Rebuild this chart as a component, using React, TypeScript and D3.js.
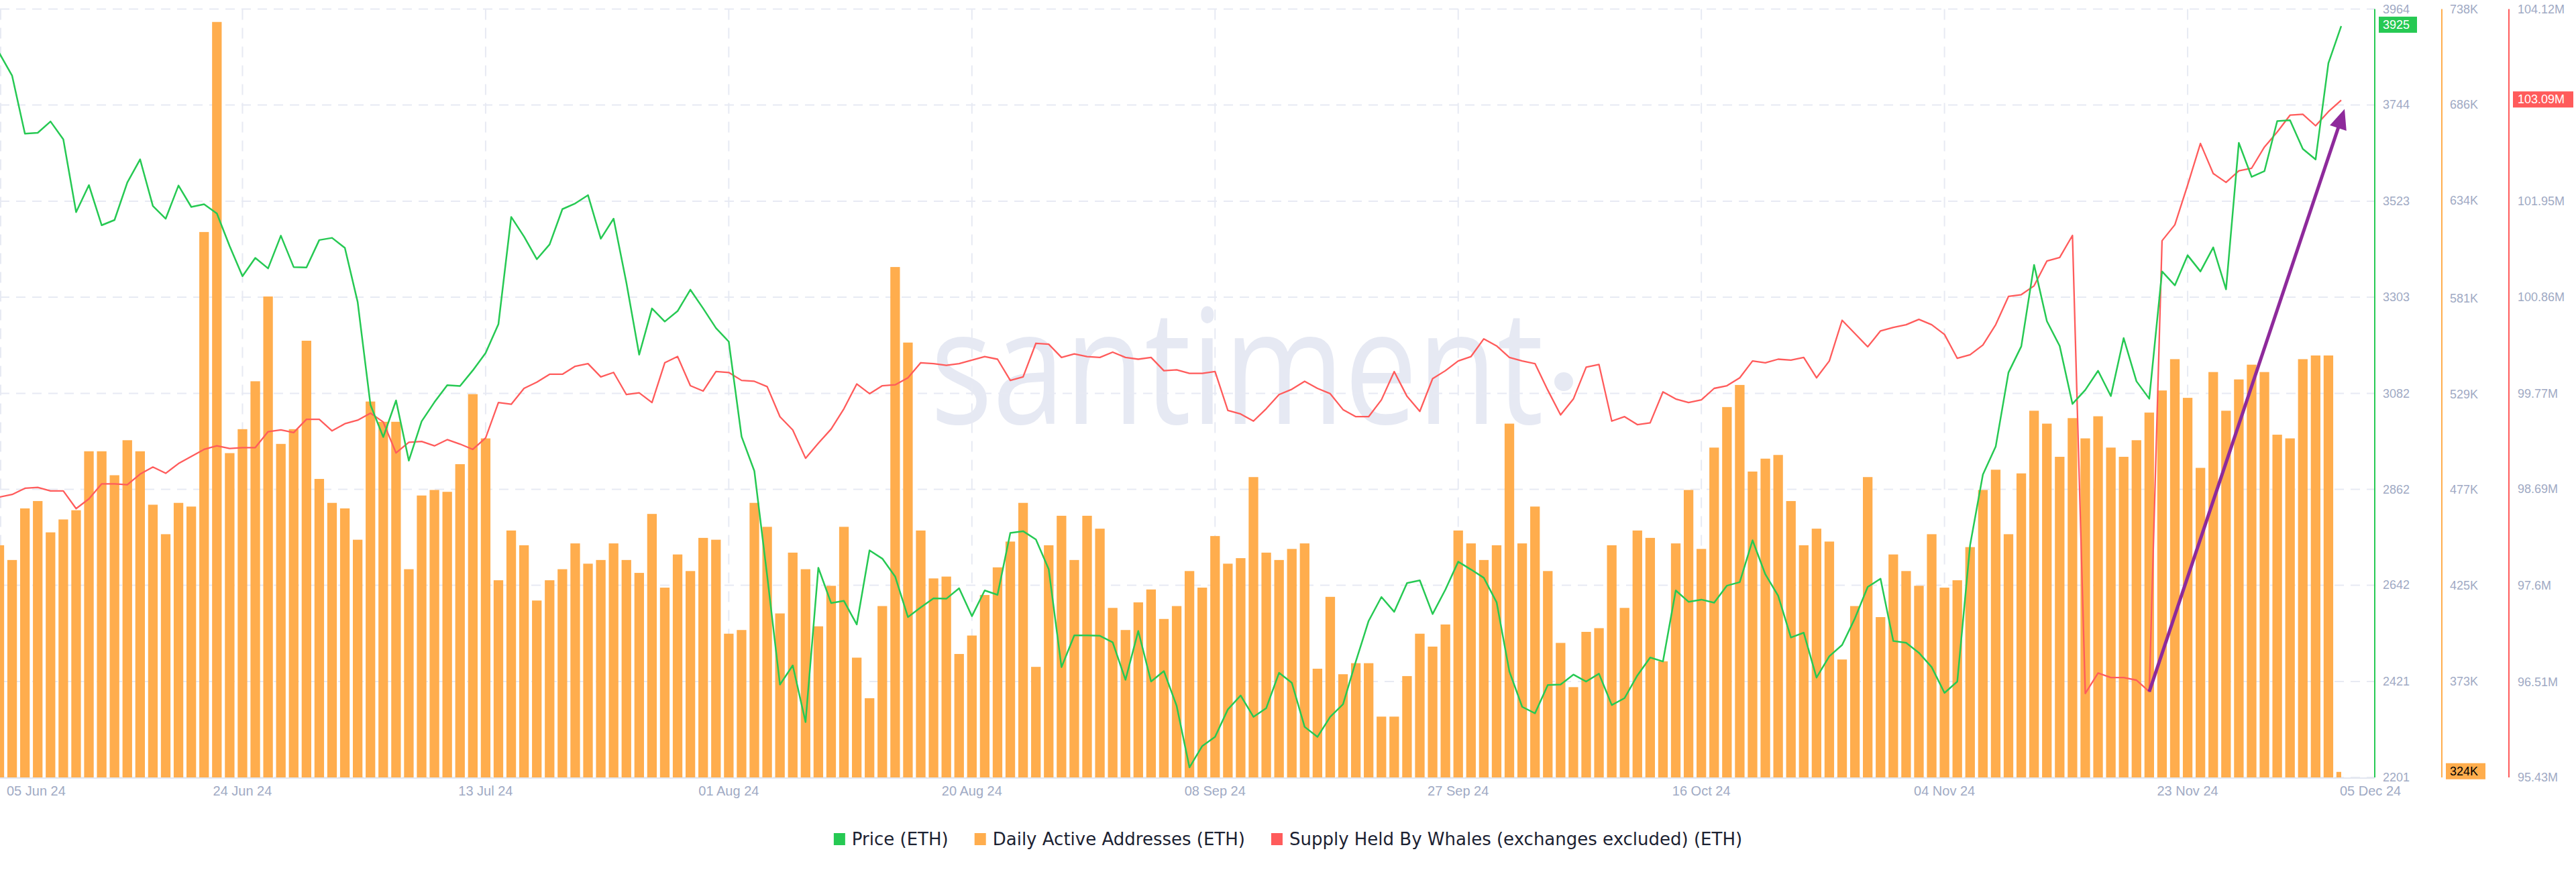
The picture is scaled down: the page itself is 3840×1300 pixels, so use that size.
import React, { useMemo } from "react";
import * as d3 from "d3";

// ---------- DATA ----------
const startDate = "2024-06-05";
const endDate = "2024-12-05";

// ETH price (USD), one value per day 05 Jun .. 05 Dec 2024
const price = [
  3863, 3811, 3678, 3680, 3706, 3665, 3498, 3560, 3468, 3480,
  3566, 3619, 3512, 3483, 3559, 3510, 3516, 3495, 3420, 3351,
  3393, 3369, 3444, 3372, 3371, 3434, 3439, 3416, 3292, 3056,
  2982, 3066, 2928, 3018, 3062, 3101, 3099, 3135, 3175, 3241,
  3487, 3442, 3390, 3424, 3505, 3518, 3537, 3437, 3483, 3336,
  3171, 3277, 3247, 3271, 3320, 3277, 3232, 3201, 2983, 2904,
  2664, 2414, 2458, 2328, 2682, 2601, 2606, 2552, 2722, 2703,
  2662, 2569, 2591, 2612, 2611, 2635, 2571, 2630, 2620, 2762,
  2766, 2747, 2679, 2454, 2527, 2527, 2526, 2511, 2425, 2537,
  2421, 2445, 2365, 2224, 2273, 2294, 2357, 2389, 2340, 2360,
  2441, 2418, 2317, 2294, 2340, 2369, 2467, 2560, 2615, 2581,
  2647, 2653, 2576, 2632, 2696, 2678, 2659, 2603, 2444, 2363,
  2348, 2413, 2414, 2437, 2421, 2439, 2367, 2383, 2435, 2476,
  2467, 2630, 2604, 2609, 2602, 2641, 2649, 2745, 2667, 2618,
  2522, 2533, 2430, 2479, 2505, 2566, 2638, 2657, 2514, 2510,
  2487, 2454, 2395, 2421, 2734, 2896, 2960, 3130, 3190, 3377,
  3248, 3191, 3058, 3090, 3134, 3076, 3209, 3110, 3070, 3362,
  3330, 3399, 3362, 3417, 3321, 3657, 3579, 3592, 3707, 3709,
  3643, 3619, 3840, 3925,
];

// Daily active addresses (thousands)
const activeAddresses = [
  447, 439, 467, 471, 454, 461, 466, 498, 498, 485,
  504, 498, 469, 453, 470, 468, 617, 731, 497, 510,
  536, 582, 502, 510, 558, 483, 470, 467, 450, 525,
  514, 514, 434, 474, 477, 476, 491, 529, 505, 428,
  455, 447, 417, 428, 434, 448, 437, 439, 448, 439,
  432, 464, 424, 442, 433, 451, 450, 399, 401, 470,
  457, 410, 443, 434, 403, 425, 457, 386, 364, 414,
  598, 557, 455, 429, 430, 388, 398, 420, 435, 449,
  470, 381, 447, 463, 439, 463, 456, 413, 401, 416,
  423, 407, 414, 433, 424, 452, 437, 440, 484, 443,
  439, 445, 448, 380, 419, 377, 383, 383, 354, 354,
  376, 399, 392, 404, 455, 448, 439, 447, 513, 448,
  468, 433, 394, 370, 400, 402, 447, 413, 455, 451,
  384, 448, 477, 445, 500, 522, 534, 487, 494, 496,
  471, 447, 456, 449, 385, 414, 484, 408, 442, 433,
  425, 453, 424, 428, 446, 477, 488, 453, 486, 520,
  513, 495, 516, 505, 517, 500, 495, 504, 519, 531,
  548, 527, 489, 541, 520, 537, 545, 541, 507, 505,
  548, 550, 550, 324,
];

// Supply held by whales, exchanges excluded (millions ETH)
const whaleSupply = [
  98.6, 98.63, 98.7, 98.71, 98.67, 98.67, 98.47, 98.58, 98.75, 98.75,
  98.74, 98.86, 98.94, 98.87, 98.98, 99.06, 99.14, 99.18, 99.15, 99.16,
  99.16, 99.34, 99.36, 99.33, 99.48, 99.48, 99.35, 99.43, 99.47, 99.55,
  99.45, 99.1, 99.22, 99.23, 99.18, 99.25, 99.2, 99.14, 99.27, 99.67,
  99.65, 99.83, 99.9, 99.99, 99.99, 100.08, 100.11, 99.96, 100.01, 99.76,
  99.78, 99.67, 100.12, 100.19, 99.86, 99.8, 100.02, 100.01, 99.92, 99.91,
  99.85, 99.51, 99.36, 99.04, 99.21, 99.37, 99.6, 99.88, 99.77, 99.86,
  99.87, 99.95, 100.12, 100.11, 100.09, 100.11, 100.15, 100.19, 100.16, 99.92,
  99.96, 100.34, 100.33, 100.18, 100.22, 100.19, 100.18, 100.24, 100.18, 100.16,
  100.18, 100.03, 100.04, 100.0, 100.0, 100.02, 99.58, 99.54, 99.46, 99.6,
  99.76, 99.82, 99.91, 99.83, 99.77, 99.59, 99.51, 99.51, 99.7, 100.02,
  99.74, 99.57, 99.94, 100.03, 100.14, 100.19, 100.39, 100.31, 100.18, 100.14,
  100.11, 99.81, 99.53, 99.71, 100.07, 100.1, 99.46, 99.51, 99.42, 99.44,
  99.79, 99.71, 99.67, 99.7, 99.83, 99.86, 99.95, 100.14, 100.12, 100.16,
  100.15, 100.18, 99.95, 100.14, 100.6, 100.45, 100.3, 100.48, 100.52, 100.55,
  100.61, 100.55, 100.44, 100.17, 100.21, 100.32, 100.55, 100.87, 100.89, 100.99,
  101.27, 101.31, 101.56, 96.38, 96.61, 96.56, 96.56, 96.53, 96.4, 101.5,
  101.68, 102.13, 102.6, 102.26, 102.16, 102.29, 102.32, 102.56, 102.73, 102.92,
  102.93, 102.8, 102.96, 103.09,
];

const priceTicks = [2201, 2421, 2642, 2862, 3082, 3303, 3523, 3744, 3964];
const addressTicks = [321, 373, 425, 477, 529, 581, 634, 686, 738];
const whaleTicks = [95.43, 96.51, 97.6, 98.69, 99.77, 100.86, 101.95, 103.03, 104.12];
const xTickDates = [
  "2024-06-05", "2024-06-24", "2024-07-13", "2024-08-01", "2024-08-20",
  "2024-09-08", "2024-09-27", "2024-10-16", "2024-11-04", "2024-11-23",
];

const seriesNames = [
  "Price (ETH)",
  "Daily Active Addresses (ETH)",
  "Supply Held By Whales (exchanges excluded) (ETH)",
];

// annotation arrow (date, whale supply value)
const arrowFrom = { date: "2024-11-20", value: 96.4 };
const arrowTo = { date: "2024-12-05", value: 102.99 };

// ---------- STYLE ----------
const W = 3840;
const H = 1300;
const GREEN = "#26c953";
const ORANGE = "#ffad4d";
const RED = "#ff5b5b";
const GRID = "#e7eaf3";
const TICK = "#9faac4";
const PURPLE = "#8e2a9b";
const AXIS_FONT = "'Liberation Sans', Arial, sans-serif";
const LEGEND_FONT = "'DejaVu Sans', sans-serif";

const plotTop = 13.5;
const plotBottom = 1159;
const xLeft = -1;
const xRight = 3490;
const axisGreenX = 3540;
const axisOrangeX = 3640;
const axisRedX = 3740;

const parse = (s: string) => new Date(s + "T00:00:00Z");

function measure(text: string, font: string) {
  const c = document.createElement("canvas");
  const ctx = c.getContext("2d")!;
  ctx.font = font;
  return ctx.measureText(text).width;
}

export default function App() {
  const dates = useMemo(
    () => d3.utcDay.range(parse(startDate), d3.utcDay.offset(parse(endDate), 1)),
    []
  );

  const x = d3.scaleUtc().domain([parse(startDate), parse(endDate)]).range([xLeft, xRight]);
  const yP = d3.scaleLinear().domain([2201, 3964]).range([plotBottom, plotTop]);
  const yA = d3.scaleLinear().domain([321, 738]).range([plotBottom, plotTop]);
  const yW = d3.scaleLinear().domain([95.43, 104.12]).range([plotBottom, plotTop]);

  const barW = 14.3;

  const priceLine = d3
    .line<number>()
    .x((_, i) => x(dates[i]))
    .y((d) => yP(d))(price) as string;
  const whaleLine = d3
    .line<number>()
    .x((_, i) => x(dates[i]))
    .y((d) => yW(d))(whaleSupply) as string;

  // legend layout
  const legendFontSize = 26;
  const legendColors = [GREEN, ORANGE, RED];
  const legend = useMemo(() => {
    const sq = 17;
    const gapIn = 10;
    const gapOut = 39;
    const widths = seriesNames.map((n) => measure(n, `${legendFontSize}px 'DejaVu Sans'`));
    const total =
      widths.reduce((a, b) => a + b, 0) + seriesNames.length * (sq + gapIn) + (seriesNames.length - 1) * gapOut;
    let cx = W / 2 - total / 2;
    return seriesNames.map((n, i) => {
      const item = { name: n, sx: cx, tx: cx + sq + gapIn, color: legendColors[i] };
      cx += sq + gapIn + widths[i] + gapOut;
      return item;
    });
  }, []);

  // arrow
  const ax1 = x(parse(arrowFrom.date));
  const ay1 = yW(arrowFrom.value);
  const ax2 = x(parse(arrowTo.date)) + 5;
  const ay2 = yW(arrowTo.value);
  const dx = ax2 - ax1;
  const dy = ay2 - ay1;
  const len = Math.hypot(dx, dy);
  const ux = dx / len;
  const uy = dy / len;
  const headL = 30;
  const headW = 13;
  const bx = ax2 - ux * headL;
  const by = ay2 - uy * headL;
  const head = [
    [ax2, ay2],
    [bx - uy * headW, by + ux * headW],
    [bx + uy * headW, by - ux * headW],
  ]
    .map((p) => p.join(","))
    .join(" ");

  const lastP = price[price.length - 1];
  const lastA = activeAddresses[activeAddresses.length - 1];
  const lastW = whaleSupply[whaleSupply.length - 1];

  // badges hide tick labels that they cover
  const covered = (scaleY: (v: number) => number, t: number, last: number) =>
    Math.abs(scaleY(t) - scaleY(last)) < 20;

  const tickStyle = { fontFamily: AXIS_FONT, fontSize: 18, fill: TICK } as const;

  return (
    <svg
      width={W}
      height={H}
      style={{ position: "absolute", left: 0, top: 0, background: "#fff" }}
    >
      <defs>
        <clipPath id="plotClip">
          <rect x={0} y={0} width={xRight} height={plotBottom} />
        </clipPath>
      </defs>

      {/* watermark */}
      <text
        x={1387}
        y={632}
        fontFamily="'Open Sans', sans-serif"
        fontSize={238}
        fill="#e6e9f3"
        textLength={914}
        lengthAdjust="spacingAndGlyphs"
      >
        santiment
      </text>
      <circle cx={2331} cy={569} r={14} fill="#e6e9f3" />

      {/* horizontal grid */}
      {priceTicks.map((t) => (
        <line
          key={"h" + t}
          x1={0}
          x2={axisGreenX}
          y1={yP(t)}
          y2={yP(t)}
          stroke={GRID}
          strokeWidth={2}
          strokeDasharray="14 10"
        />
      ))}
      {/* vertical grid */}
      {xTickDates.map((d) => (
        <line
          key={"v" + d}
          x1={Math.max(1, x(parse(d)))}
          x2={Math.max(1, x(parse(d)))}
          y1={plotTop}
          y2={plotBottom}
          stroke={GRID}
          strokeWidth={2}
          strokeDasharray="16 12"
        />
      ))}

      {/* bars */}
      <g clipPath="url(#plotClip)">
        {activeAddresses.map((v, i) => (
          <rect
            key={"b" + i}
            x={x(dates[i]) - barW / 2}
            y={yA(v)}
            width={barW}
            height={plotBottom - yA(v)}
            fill={ORANGE}
          />
        ))}
      </g>

      {/* bottom axis line */}
      <line x1={0} x2={axisGreenX} y1={plotBottom + 1} y2={plotBottom + 1} stroke="#e3e7f0" strokeWidth={2} />

      {/* lines */}
      <path d={whaleLine} fill="none" stroke={RED} strokeWidth={2.3} strokeLinejoin="round" />
      <path d={priceLine} fill="none" stroke={GREEN} strokeWidth={2.5} strokeLinejoin="round" />

      {/* arrow annotation */}
      <line
        x1={ax1}
        y1={ay1}
        x2={bx + ux * 4}
        y2={by + uy * 4}
        stroke={PURPLE}
        strokeWidth={5}
      />
      <polygon points={head} fill={PURPLE} />

      {/* x axis labels */}
      {xTickDates.map((d, i) => {
        const px = x(parse(d));
        const label = d3.utcFormat("%d %b %y")(parse(d));
        return i === 0 ? (
          <text key={"xl" + d} x={10} y={1186} textAnchor="start" {...tickStyle} fontSize={20}>
            {label}
          </text>
        ) : (
          <text key={"xl" + d} x={px} y={1186} textAnchor="middle" {...tickStyle} fontSize={20}>
            {label}
          </text>
        );
      })}
      <text x={x(parse(endDate)) - 2} y={1186} textAnchor="start" {...tickStyle} fontSize={20}>
        {d3.utcFormat("%d %b %y")(parse(endDate))}
      </text>

      {/* right axes */}
      <line x1={axisGreenX} x2={axisGreenX} y1={plotTop} y2={plotBottom} stroke={GREEN} strokeWidth={2} />
      <line x1={axisOrangeX} x2={axisOrangeX} y1={plotTop} y2={plotBottom} stroke={ORANGE} strokeWidth={2} />
      <line x1={axisRedX} x2={axisRedX} y1={plotTop} y2={plotBottom} stroke={RED} strokeWidth={2} />

      {priceTicks.map((t) => (
        <text key={"pt" + t} x={axisGreenX + 12} y={yP(t)} dominantBaseline="central" {...tickStyle}>
          {t}
        </text>
      ))}
      {addressTicks
        .filter((t) => !covered(yA, t, lastA))
        .map((t) => (
          <text key={"at" + t} x={axisOrangeX + 12} y={yA(t)} dominantBaseline="central" {...tickStyle}>
            {t + "K"}
          </text>
        ))}
      {whaleTicks
        .filter((t) => !covered(yW, t, lastW))
        .map((t) => (
          <text key={"wt" + t} x={axisRedX + 13} y={yW(t)} dominantBaseline="central" {...tickStyle}>
            {t + "M"}
          </text>
        ))}

      {/* last value badges */}
      <rect x={axisGreenX + 6} y={yP(lastP) - 14} width={57} height={24} fill={GREEN} />
      <text x={axisGreenX + 12} y={yP(lastP) - 2} dominantBaseline="central" {...tickStyle} fill="#fff">
        {lastP}
      </text>
      <rect x={axisOrangeX + 6} y={yA(lastA) - 13} width={59} height={24} fill={ORANGE} />
      <text x={axisOrangeX + 12} y={yA(lastA) - 1} dominantBaseline="central" {...tickStyle} fill="#000">
        {lastA + "K"}
      </text>
      <rect x={axisRedX + 6} y={yW(lastW) - 13} width={90} height={24} fill={RED} />
      <text x={axisRedX + 13} y={yW(lastW) - 1} dominantBaseline="central" {...tickStyle} fill="#fff">
        {lastW.toFixed(2) + "M"}
      </text>

      {/* legend */}
      {legend.map((it) => (
        <g key={it.name}>
          <rect x={it.sx} y={1242} width={17} height={18} fill={it.color} />
          <text x={it.tx} y={1260} fontFamily={LEGEND_FONT} fontSize={legendFontSize} fill="#1c2232">
            {it.name}
          </text>
        </g>
      ))}
    </svg>
  );
}
